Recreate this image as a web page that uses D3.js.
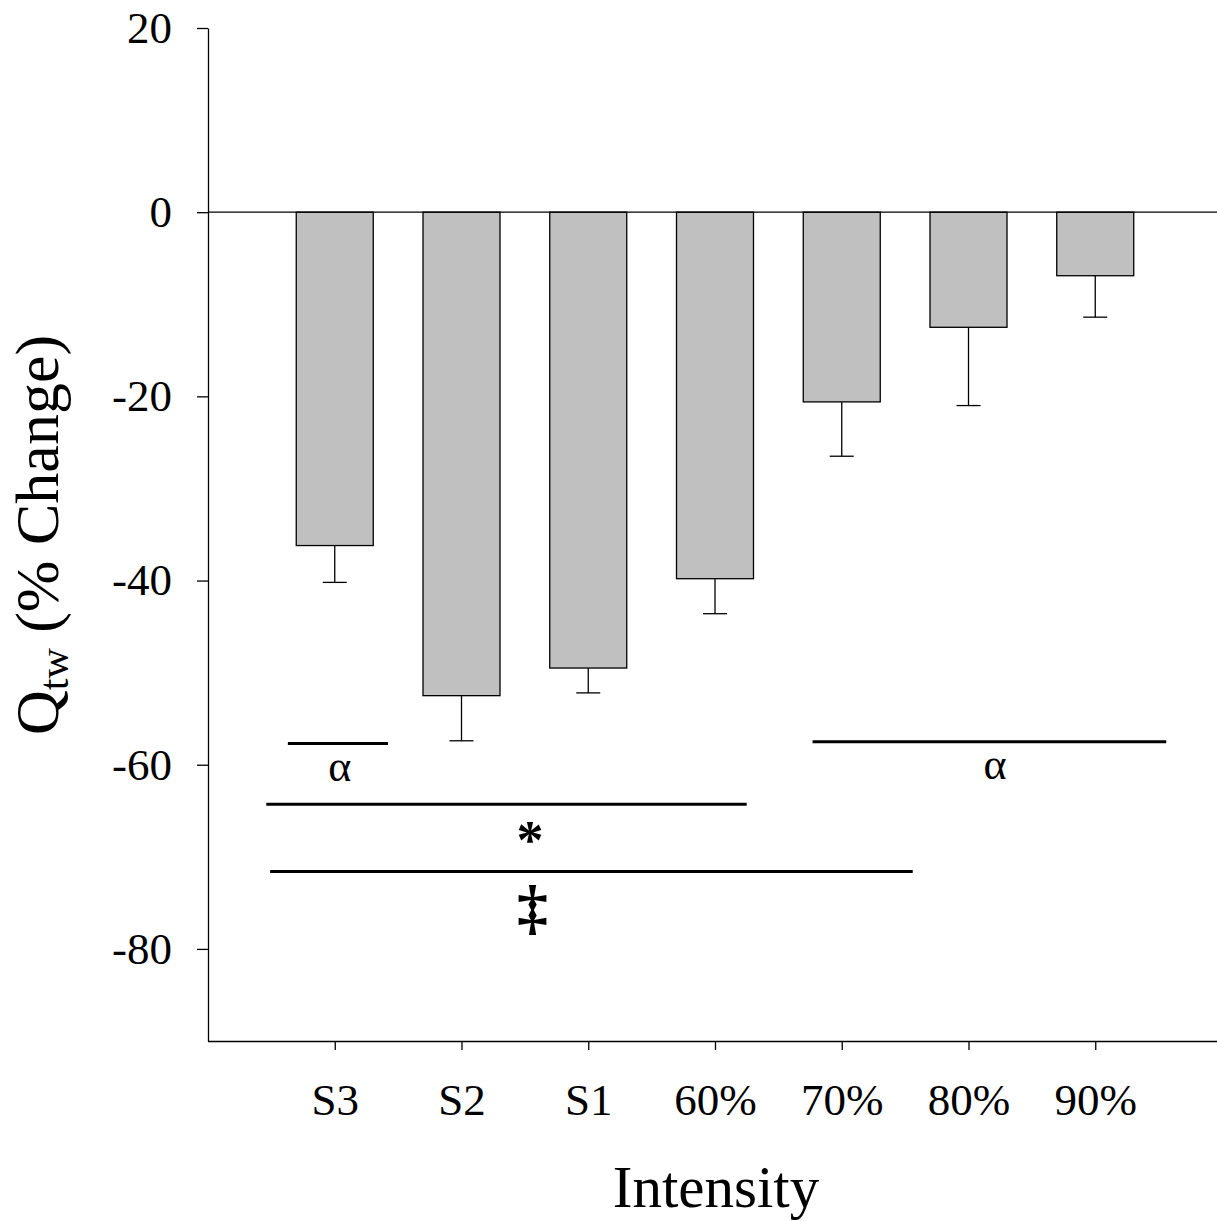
<!DOCTYPE html>
<html>
<head>
<meta charset="utf-8">
<script src="https://cdn.jsdelivr.net/npm/d3@7"></script>
<style>
  body { margin: 0; background: #fff; }
  text { font-family: "Liberation Serif", "Times New Roman", serif; fill: #000; }
</style>
</head>
<body>
<div id="root"></div>
<script>
// data
var categories = ["S3", "S2", "S1", "60%", "70%", "80%", "90%"];
var means = [-36.2, -52.5, -49.5, -39.8, -20.6, -12.5, -6.9];
var errors = [4.0, 4.9, 2.7, 3.8, 5.9, 8.5, 4.5];
var yTicks = [20, 0, -20, -40, -60, -80];

// significance marks: line from/to in category units, y value, symbol and where it sits
var sigFrom = [-0.37, 3.77, -0.54, -0.51];
var sigTo = [0.42, 6.56, 3.25, 4.56];
var sigY = [-57.7, -57.5, -64.3, -71.6];
var sigSymbols = ["\u03B1", "\u03B1", "*", "\u2021"];
var sigTextX = [0.04, 5.21, 1.54, 1.56];

var W = 1217, H = 1221;
var config = {
  left: 208,
  right: 1222,
  top: 28,
  bottom: 1041,
  barWidth: 77,
  capWidth: 24
};

var svg = d3.select("#root").append("svg")
  .attr("width", W).attr("height", H);

var x = d3.scalePoint()
  .domain(categories)
  .range([config.left, config.right])
  .padding(1);
var step = x.step();
var xi = function(v) { return x(categories[0]) + v * step; };  // fractional positions

var y = d3.scaleLinear()
  .domain([-90, 20])
  .range([config.bottom, config.top]);

// bars
svg.append("g").selectAll("rect")
  .data(means)
  .enter().append("rect")
  .attr("x", function(d, i) { return x(categories[i]) - config.barWidth / 2; })
  .attr("y", y(0))
  .attr("width", config.barWidth)
  .attr("height", function(d) { return y(d) - y(0); })
  .style("fill", "#c0c0c0")
  .style("stroke", "#000")
  .style("stroke-width", 1.3);

// error bars (downward only)
var eb = svg.append("g").style("stroke", "#000").style("stroke-width", 1.3);
means.forEach(function(m, i) {
  var cx = x(categories[i]);
  eb.append("line").attr("x1", cx).attr("x2", cx).attr("y1", y(m)).attr("y2", y(m - errors[i]));
  eb.append("line").attr("x1", cx - config.capWidth / 2).attr("x2", cx + config.capWidth / 2)
    .attr("y1", y(m - errors[i])).attr("y2", y(m - errors[i]));
});

// zero line
svg.append("line")
  .attr("x1", config.left).attr("x2", W)
  .attr("y1", y(0)).attr("y2", y(0))
  .style("stroke", "#000").style("stroke-width", 1.3);

// y axis
var yAxis = svg.append("g")
  .attr("transform", "translate(" + config.left + ",0)")
  .call(d3.axisLeft(y).tickValues(yTicks).tickFormat(function(d) { return String(d); })
    .tickSize(11).tickSizeOuter(0).tickPadding(25));
yAxis.select(".domain").style("stroke-width", 1.3);
yAxis.selectAll(".tick line").style("stroke-width", 1.3);
yAxis.selectAll("text").style("font-size", "45px")
  .style("font-family", "Liberation Serif");

// x axis
var xAxis = svg.append("g")
  .attr("transform", "translate(0," + config.bottom + ")")
  .call(d3.axisBottom(x).tickSize(9).tickSizeOuter(0).tickPadding(33));
xAxis.select(".domain").attr("d", "M" + config.left + ",0.5H" + W).style("stroke-width", 1.3);
xAxis.selectAll(".tick line").style("stroke-width", 1.3);
xAxis.selectAll("text").style("font-size", "45px")
  .style("font-family", "Liberation Serif");

// significance lines
var sig = svg.append("g");
var symSize = { "\u03B1": 44, "*": 54, "\u2021": 62 };
var symDy = { "\u03B1": 37, "*": 54, "\u2021": 56 };
sigSymbols.forEach(function(s, i) {
  sig.append("line")
    .attr("x1", xi(sigFrom[i])).attr("x2", xi(sigTo[i]))
    .attr("y1", y(sigY[i])).attr("y2", y(sigY[i]))
    .style("stroke", "#000").style("stroke-width", 3);
  sig.append("text")
    .attr("x", xi(sigTextX[i]))
    .attr("y", y(sigY[i]) + symDy[s])
    .attr("text-anchor", "middle")
    .style("font-size", symSize[s] + "px")
    .style("font-weight", s == "\u03B1" ? "normal" : "bold")
    .text(s);
});

// axis titles
svg.append("text")
  .attr("x", 716).attr("y", 1207)
  .attr("text-anchor", "middle")
  .style("font-size", "59px")
  .text("Intensity");

var yl = svg.append("text")
  .attr("transform", "translate(58,535) rotate(-90)")
  .attr("text-anchor", "middle")
  .style("font-size", "62px");
yl.append("tspan").text("Q");
yl.append("tspan").attr("dy", 10).style("font-size", "42px").text("tw");
yl.append("tspan").attr("dy", -10).text(" (% Change)");
</script>
</body>
</html>
